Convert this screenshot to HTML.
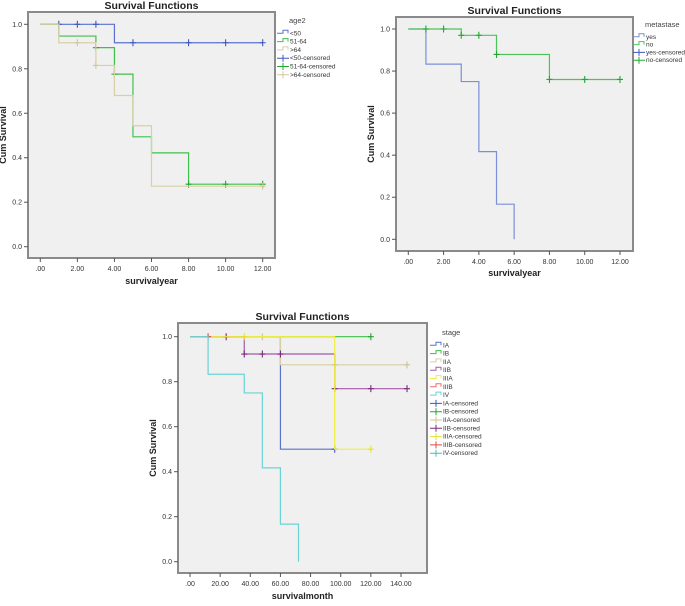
<!DOCTYPE html>
<html><head><meta charset="utf-8"><style>
body{margin:0;background:#fff;width:685px;height:601px;overflow:hidden;font-family:"Liberation Sans",sans-serif}
svg text{font-family:"Liberation Sans",sans-serif}
</style></head><body>
<svg id="s" width="685" height="601"></svg>
<script>
// ---- Chart 1 data (age2)
const c1Groups = ["<50","51-64",">64"];
const c1Times = [[0,4,12],[0,1,3,4,5,6,8,12],[0,1,3,4,5,6,12]];
const c1Surv = [[1,0.917,0.917],[1,0.947,0.895,0.776,0.494,0.422,0.281,0.281],[1,0.917,0.815,0.68,0.544,0.272,0.272]];
const c1CensT = [[1,2,3,5,8,10,12],[3,4,8,10,12],[2,3,12]];
const c1XTicks = [".00","2.00","4.00","6.00","8.00","10.00","12.00"];
// ---- Chart 2 data (metastase)
const c2Groups = ["yes","no"];
const c2Times = [[0,1,3,4,5,6,6],[0,3,5,8,12]];
const c2Surv = [[1,0.833,0.75,0.417,0.167,0,0],[1,0.97,0.879,0.76,0.76]];
const c2CensT = [[],[1,2,3,4,5,8,10,12]];
// ---- Chart 3 data (stage)
const c3Groups = ["IA","IB","IIA","IIB","IIIA","IIIB","IV"];
const c3Times = [[0,60,96],[0,120],[0,60,144],[0,36,96,144],[0,96,120],[0,12],[0,12,36,48,60,72,72]];
const c3Surv = [[1,0.5,0.5],[1,1],[1,0.875,0.875],[1,0.923,0.769,0.769],[1,0.5,0.5],[1,1],[1,0.833,0.75,0.417,0.167,0,0]];
const c3CensT = [[96],[120],[48,96,144],[24,36,48,60,96,120,144],[36,120],[12],[]];
const c3XTicks = [".00","20.00","40.00","60.00","80.00","100.00","120.00","140.00"];
const yTicks = ["0.0","0.2","0.4","0.6","0.8","1.0"];

const NS="http://www.w3.org/2000/svg", S=document.getElementById('s');
function mk(tag,a,p){const e=document.createElementNS(NS,tag);for(const k in a)e.setAttribute(k,a[k]);(p||S).appendChild(e);return e;}
function txt(x,y,t,a,p){const e=mk('text',Object.assign({x:x,y:y},a),p);e.textContent=t;return e;}

function stepVal(T,V,t){let v=V[0];for(let i=0;i<T.length;i++){if(T[i]<=t+1e-9)v=V[i];}return v;}

function chart(o){
  const g=mk('g',{});
  
  
  const X=t=>o.x0+(t-o.tMin)/(o.tMax-o.tMin)*(o.x1-o.x0);
  const Y=v=>o.y0+(1-v)*(o.y1-o.y0);
  const bg=mk('rect',{x:o.bx,y:o.by,width:o.bw,height:o.bh,fill:'#f0f0f0',stroke:'#8a8a8a','stroke-width':2},g);
  
  const tt=txt(o.bx+o.bw/2,o.by-3,'Survival Functions',{'font-size':10.5,'font-weight':'bold','text-anchor':'middle',fill:'#222'},g);
  
  yTicks.forEach((l,i)=>{const y=Y(i/5);
    mk('line',{x1:o.bx-4,x2:o.bx,y1:y,y2:y,stroke:'#555','stroke-width':1},g);
    const e=txt(o.bx-6,y+2.5,l,{'font-size':7,'text-anchor':'end',fill:'#333'},g);
    });
  o.xTicks.forEach((l,i)=>{const x=X(o.tMin+i*o.tStep);
    mk('line',{x1:x,x2:x,y1:o.by+o.bh,y2:o.by+o.bh+4,stroke:'#555','stroke-width':1},g);
    const e=txt(x,o.by+o.bh+13,l,{'font-size':7,'text-anchor':'middle',fill:'#333'},g);
    });
  const xt=txt(o.bx+o.bw/2,o.xtY,o.xTitle,{'font-size':9,'font-weight':'bold','text-anchor':'middle',fill:'#222'},g);
  
  const yx=o.bx-22, yy=o.by+o.bh/2;
  const yt=txt(yx,yy,'Cum Survival',{'font-size':9,'font-weight':'bold','text-anchor':'middle',fill:'#222',transform:`rotate(-90 ${yx} ${yy})`},g);
  
  o.groups.forEach((gn,i)=>{
    const T=o.times[i],V=o.surv[i];let d=`M${X(T[0])},${Y(V[0])}`;
    for(let k=1;k<T.length;k++){d+=` H${X(T[k])} V${Y(V[k])}`;}
    const p=mk('path',{d:d,fill:'none',stroke:o.colors[i],'stroke-width':1.2},g);
    
    
    o.cens[i].forEach(t=>{const cx=X(t),cy=Y(stepVal(T,V,t));
      const c=mk('path',{d:`M${cx-3},${cy} H${cx+3} M${cx},${cy-3.5} V${cy+3.5}`,stroke:o.cmColors[i],'stroke-width':1.1},g);
      });
  });
  // legend
  const lt=txt(o.lx+12,o.ly,o.lTitle,{'font-size':7.5,'text-anchor':'start',fill:'#444'},g);
  
  let y=o.ly+o.ld+2;
  o.groups.forEach((gn,i)=>{
    const lg=mk('g',{},g);
    mk('path',{d:`M${o.lx},${y} H${o.lx+6} V${y-3} H${o.lx+11} V${y}`,fill:'none',stroke:o.colors[i],'stroke-width':1},lg);
    txt(o.lx+13,y+2,gn,{'font-size':6.5,fill:'#333'},lg);y+=o.ld;});
  o.groups.forEach((gn,i)=>{
    const lg=mk('g',{},g);
    mk('path',{d:`M${o.lx},${y} H${o.lx+12} M${o.lx+6},${y-3.5} V${y+3.5}`,stroke:o.cmColors[i],'stroke-width':1},lg);
    txt(o.lx+13,y+2,gn+'-censored',{'font-size':6.5,fill:'#333'},lg);y+=o.ld;});
}

chart({name:'chart-age2',bx:28,by:12,bw:247,bh:246,x0:40.3,x1:262.7,y0:24.3,y1:246.7,tMin:0,tMax:12,tStep:2,
  xTicks:c1XTicks,xTitle:'survivalyear',xtY:284,groups:c1Groups,times:c1Times,surv:c1Surv,cens:c1CensT,
  colors:['#5a72cc','#3fc04a','#d9cfa6'],cmColors:['#3e58c0','#22a830','#d2c79a'],lTitle:'age2',lx:277,ly:23,ld:8.3});
chart({name:'chart-metastase',bx:396,by:17,bw:237,bh:234,x0:408.3,x1:620,y0:29,y1:239.3,tMin:0,tMax:12,tStep:2,
  xTicks:c1XTicks,xTitle:'survivalyear',xtY:276,groups:c2Groups,times:c2Times,surv:c2Surv,cens:c2CensT,
  colors:['#7a8fd6','#4cc45a'],cmColors:['#3e58c0','#22a830'],lTitle:'metastase',lx:633,ly:27,ld:7.8});
chart({name:'chart-stage',bx:178,by:323,bw:249,bh:250,x0:190,x1:401,y0:336.7,y1:561.7,tMin:0,tMax:140,tStep:20,
  xTicks:c3XTicks,xTitle:'survivalmonth',xtY:599,groups:c3Groups,times:c3Times,surv:c3Surv,cens:c3CensT,
  colors:['#5a72cc','#3fc04a','#d9cfa6','#a45aa8','#f2ee40','#f06a6a','#6ad4d4'],
  cmColors:['#3e58c0','#22a830','#cfc392','#7a2a7e','#e8e030','#e84848','#40c0c0'],lTitle:'stage',lx:430,ly:335,ld:8.3});
</script>
</body></html>
